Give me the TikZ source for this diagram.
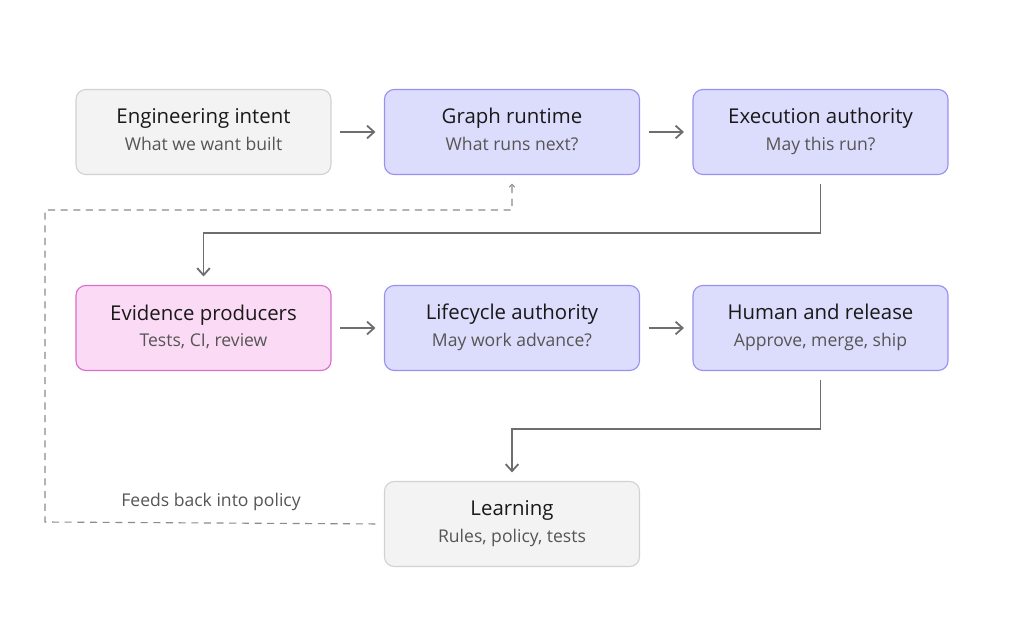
\documentclass[tikz,border=0pt]{standalone}
\usepackage{fontspec}
\setmainfont{Open Sans}
\usetikzlibrary{arrows.meta}
\definecolor{greyfill}{HTML}{F3F3F3}
\definecolor{greyline}{HTML}{D2D2D2}
\definecolor{purfill}{HTML}{DCDCFC}
\definecolor{purline}{HTML}{9A90F2}
\definecolor{pinkfill}{HTML}{FBDAF5}
\definecolor{pinkline}{HTML}{DA6FCB}
\definecolor{arrowgrey}{HTML}{6E6E6E}
\definecolor{subgrey}{HTML}{555555}
\tikzset{
  box/.style={draw, rounded corners=7pt, line width=0.8pt, minimum width=6.375cm, minimum height=2.125cm},
  plain/.style={box, fill=greyfill, draw=greyline},
  runtime/.style={box, fill=purfill, draw=purline},
  evidence/.style={box, fill=pinkfill, draw=pinkline},
  flow/.style={draw=arrowgrey, line width=1.3pt, shorten <=6pt, shorten >=6pt, -{Straight Barb[length=5pt,width=9pt]}},
  feedback/.style={draw=arrowgrey!80, line width=0.8pt, dash pattern=on 5pt off 4pt, shorten <=6pt, shorten >=6pt, -{Straight Barb[length=2pt,width=4pt]}},
}
\newcommand{\boxtext}[2]{\begin{tabular}{c}{\fontsize{14.5}{17}\selectfont\color{black!90}#1}\\[6pt]{\fontsize{12.5}{15}\selectfont\color{subgrey}#2}\end{tabular}}
\begin{document}
\begin{tikzpicture}[x=0.025cm, y=-0.025cm]
    \useasboundingbox (0,0) rectangle (1024,626);
    \node[plain] (intent) at (203.5,132) {\boxtext{Engineering intent}{What we want built}};
    \node[runtime] (graph) at (512,132) {\boxtext{Graph runtime}{What runs next?}};
    \node[runtime] (exec) at (820.5,132) {\boxtext{Execution authority}{May this run?}};
    \node[evidence] (evid) at (203.5,328) {\boxtext{Evidence producers}{Tests, CI, review}};
    \node[runtime] (life) at (512,328) {\boxtext{Lifecycle authority}{May work advance?}};
    \node[runtime] (human) at (820.5,328) {\boxtext{Human and release}{Approve, merge, ship}};
    \node[plain] (learn) at (512,524) {\boxtext{Learning}{Rules, policy, tests}};
    \node[text=subgrey, font=\fontsize{12.5}{15}\selectfont] (feeds) at (211,502) {Feeds back into policy};

    \draw[flow] (intent) -- (graph);
    \draw[flow] (graph) -- (exec);
    \draw[flow] (evid) -- (life);
    \draw[flow] (life) -- (human);
    \draw[flow] (exec.south) -- ++(0,58) -| (evid.north);
    \draw[flow] (human.south) -- ++(0,58) -| (learn.north);
    \draw[feedback] (learn.west) -- (45,522) -- (45,210) -| (graph.south);
\end{tikzpicture}
\end{document}
